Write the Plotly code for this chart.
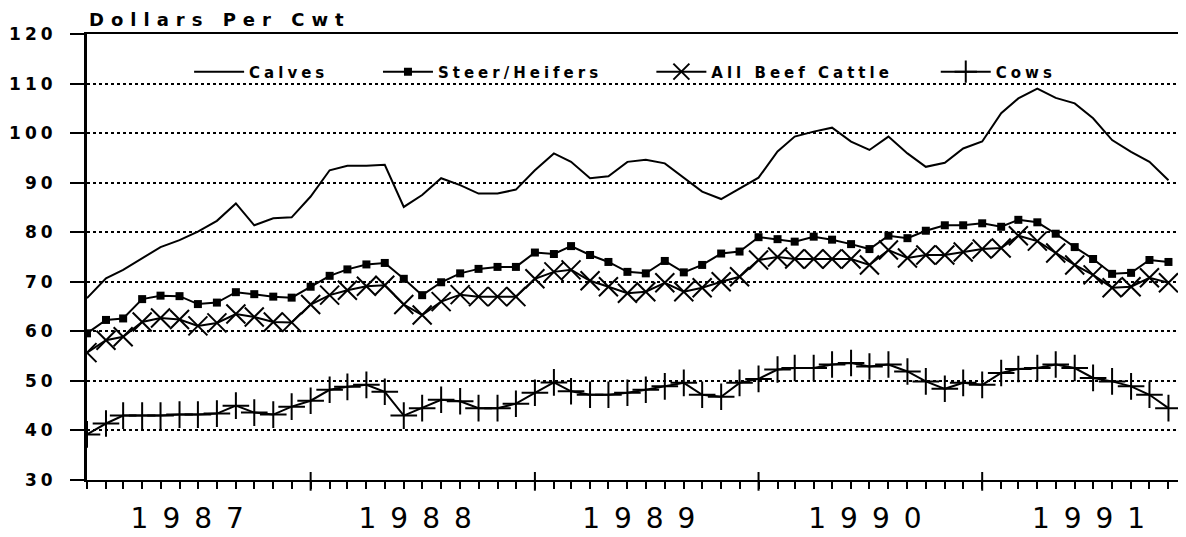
import pandas as pd
import plotly.graph_objects as go

months = pd.date_range("1987-01-01", periods=59, freq="MS")

calves = [
    66.7, 70.7, 72.4, 74.7, 77.0, 78.4, 80.1, 82.3, 85.8, 81.4, 82.8, 83.0,
    87.2, 92.5, 93.4, 93.4, 93.6, 85.1, 87.5, 90.9, 89.5, 87.8, 87.8, 88.6,
    92.5, 95.9, 94.2, 90.9, 91.3, 94.2, 94.6, 93.9, 91.0, 88.2, 86.7, 88.8,
    91.0, 96.3, 99.3, 100.3, 101.1, 98.3, 96.6, 99.3, 95.9, 93.2, 94.0, 96.9,
    98.3, 104.0, 107.0, 109.0, 107.1, 106.0, 103.0, 98.6, 96.2, 94.2, 90.5,
]
steer_heifers = [
    59.6, 62.3, 62.6, 66.5, 67.2, 67.1, 65.5, 65.8, 67.9, 67.5, 67.0, 66.8,
    69.0, 71.2, 72.5, 73.5, 73.8, 70.6, 67.3, 69.9, 71.7, 72.6, 73.0, 73.0,
    75.9, 75.6, 77.2, 75.4, 74.0, 72.0, 71.7, 74.2, 71.9, 73.4, 75.7, 76.1,
    79.0, 78.6, 78.1, 79.1, 78.5, 77.6, 76.6, 79.3, 78.8, 80.3, 81.4, 81.4,
    81.8, 81.1, 82.5, 82.0, 79.7, 77.0, 74.6, 71.6, 71.8, 74.4, 74.0,
]
all_beef_cattle = [
    55.7, 58.2, 58.9, 61.9, 62.7, 62.4, 61.1, 61.7, 63.5, 62.9, 61.9, 61.8,
    65.4, 67.3, 68.3, 69.1, 69.3, 65.4, 63.3, 66.0, 67.4, 67.0, 67.0, 67.0,
    70.6, 72.0, 72.4, 70.2, 69.0, 67.7, 68.0, 69.8, 68.0, 68.8, 70.0, 71.0,
    74.4, 75.0, 74.6, 74.6, 74.6, 74.6, 73.4, 76.4, 74.8, 75.4, 75.4, 76.0,
    76.6, 76.8, 79.3, 78.2, 75.8, 73.4, 71.4, 68.8, 69.0, 70.8, 69.8,
]
cows = [
    39.2, 41.4, 43.0, 43.0, 43.0, 43.2, 43.2, 43.4, 45.0, 43.6, 43.2, 44.8,
    46.0, 48.2, 48.8, 49.2, 47.8, 43.0, 44.5, 46.2, 45.9, 44.5, 44.5, 45.4,
    47.6, 49.7, 47.9, 47.2, 47.2, 47.6, 48.2, 48.9, 49.6, 47.2, 46.8, 49.6,
    50.4, 52.3, 52.6, 52.6, 53.3, 53.6, 52.9, 53.3, 51.9, 49.9, 48.4, 49.6,
    49.2, 51.6, 52.4, 52.6, 53.3, 52.6, 50.6, 49.9, 48.9, 47.2, 44.5,
]

year_labels = ["1987", "1988", "1989", "1990", "1991"]
year_label_dates = ["1987-06-25", "1988-07-01", "1989-07-01", "1990-07-05", "1991-07-05"]
year_starts = ["1988-01-01", "1989-01-01", "1990-01-01", "1991-01-01"]
y_ticks = [30, 40, 50, 60, 70, 80, 90, 100, 110, 120]


def spaced(text, px, bold=True):
    inner = f"<b>{text}</b>" if bold else text
    return f'<span style="letter-spacing:{px}px">{inner}</span>'


series = [
    ("Calves", calves, dict(mode="lines"), "legend", 0.093),
    ("Steer/Heifers", steer_heifers,
     dict(mode="lines+markers", marker=dict(symbol="square", size=8, color="black")),
     "legend2", 0.265),
    ("All Beef Cattle", all_beef_cattle,
     dict(mode="lines+markers",
          marker=dict(symbol="x-thin-open", size=19, color="black", line=dict(width=2, color="black"))),
     "legend3", 0.514),
    ("Cows", cows,
     dict(mode="lines+markers",
          marker=dict(symbol="cross-thin-open", size=19, color="black", line=dict(width=2, color="black"))),
     "legend4", 0.773),
]

fig = go.Figure()
legend_layouts = {}
for name, values, style, legend_id, lx in series:
    fig.add_trace(go.Scatter(
        x=months, y=values, name=spaced(name, 4),
        line=dict(color="black", width=2),
        legend=legend_id, **style,
    ))
    legend_layouts[legend_id] = dict(
        x=lx, y=0.915, xanchor="left", yanchor="middle",
        orientation="h", bgcolor="rgba(0,0,0,0)", itemwidth=50,
        font=dict(family="DejaVu Sans", size=15, color="black"),
    )

# heavier ticks marking the start of each year
for d in year_starts:
    fig.add_shape(type="line", xref="x", yref="paper", x0=d, x1=d, y0=-0.024, y1=0.018,
                  line=dict(color="black", width=2))
# thin right border
fig.add_shape(type="line", xref="paper", yref="paper", x0=1, x1=1, y0=0, y1=1,
              line=dict(color="black", width=1.5))

fig.add_annotation(
    text=spaced("Dollars Per Cwt", 7), xref="paper", yref="paper",
    x=0, y=1, xanchor="left", yanchor="bottom", yshift=2, showarrow=False,
    font=dict(family="DejaVu Sans", size=18, color="black"),
)

# the page body has an 8px margin, so the figure is sized and offset to fit it
fig.update_layout(
    width=1178, height=529,
    margin=dict(l=79, r=1, t=26, b=57),
    paper_bgcolor="white", plot_bgcolor="white",
    showlegend=True,
    **legend_layouts,
)

fig.update_xaxes(
    range=["1987-01-01", "1991-11-28"], automargin=False,
    tickmode="array", tickvals=year_label_dates,
    ticktext=[spaced(t, 14, bold=False) for t in year_labels],
    ticks="", ticklabelstandoff=12,
    tickfont=dict(family="DejaVu Sans", size=28, color="black"),
    showline=True, linecolor="black", linewidth=2, mirror=True,
    showgrid=False, zeroline=False,
    minor=dict(tickmode="linear", tick0="1987-01-01", dtick="M1", ticks="outside",
               ticklen=7, tickwidth=2, tickcolor="black", showgrid=False),
)
fig.update_yaxes(
    range=[30, 120], automargin=False, tickmode="array", tickvals=y_ticks,
    ticktext=[spaced(str(v), 4) for v in y_ticks],
    ticks="outside", ticklen=14, tickwidth=2, tickcolor="black",
    ticklabelstandoff=10,
    tickfont=dict(family="DejaVu Sans", size=17, color="black"),
    showline=True, linecolor="black", linewidth=3,
    showgrid=True, gridcolor="black", gridwidth=1.5, griddash="dot",
    zeroline=False,
)

fig.write_html("out.html")
